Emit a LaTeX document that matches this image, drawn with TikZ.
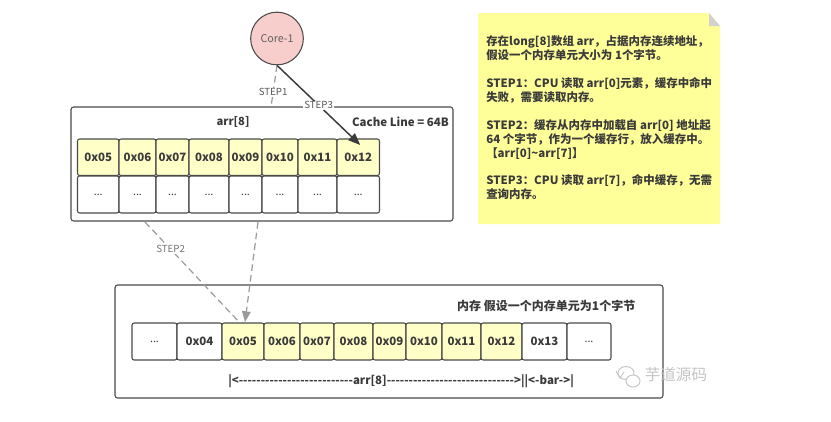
\documentclass[tikz,border=0pt]{standalone}
\usepackage{fontspec}
\setmainfont{Noto Sans CJK SC}
\usetikzlibrary{arrows.meta,calc}
\definecolor{inkdark}{HTML}{3A3A3A}
\definecolor{edgegray}{HTML}{4A4A4A}
\definecolor{dashgray}{HTML}{9A9A9A}
\definecolor{cellyellow}{HTML}{FFFFC8}
\definecolor{noteyellow}{HTML}{FFFF99}
\definecolor{corepink}{HTML}{F8CECC}
\definecolor{markgray}{HTML}{C4C4C4}
\tikzset{
  panel/.style={draw=edgegray,line width=0.8pt,rounded corners=2pt,fill=white},
  cellbase/.style={draw=edgegray,line width=0.8pt,rounded corners=1.6pt,inner sep=0pt,outer sep=0pt,
    text=inkdark,font=\fontsize{8.6}{9}\selectfont\bfseries},
  hotcell/.style={cellbase,fill=cellyellow},
  plaincell/.style={cellbase,fill=white},
  steplabel/.style={fill=white,inner sep=0.6pt,text=inkdark!85,font=\fontsize{7.3}{8}\selectfont},
  headtext/.style={text=inkdark,font=\fontsize{8.4}{9}\selectfont\bfseries},
  dashlink/.style={draw=dashgray,line width=0.9pt,dash pattern=on 5pt off 3pt},
}
% draws one cell from its left, right, top and bottom pixel edges
\newcommand{\putcell}[7]{%
  \pgfmathsetmacro{\cw}{(#3-#2)*0.75}%
  \pgfmathsetmacro{\ch}{(#5-#4)*0.75}%
  \node[#6,minimum width=\cw pt,minimum height=\ch pt] (#1) at ({(#2+#3)/2},{(#4+#5)/2}) {#7};%
}
% small elided-content marker used by the empty cells
\newcommand{\elide}{\raisebox{-0.5pt}{\fontsize{8}{8}\selectfont\mdseries ...}}
\begin{document}
\begin{tikzpicture}[x=0.75pt,y=-0.75pt]
\useasboundingbox (0,0) rectangle (831,421);

% sticky note with its folded corner
\fill[noteyellow] (478,13) -- (709,13) -- (720,26) -- (720,224) -- (478,224) -- cycle;
\fill[black!18] (709,13) -- (720,26) -- (709,26) -- cycle;
\node[anchor=north west,inner sep=0pt,align=left,text=inkdark,
      font=\fontsize{8.6}{10.45}\selectfont\bfseries] (note) at (486,35.5) {%
存在long[8]数组 arr，占据内存连续地址，\\
假设一个内存单元大小为 1个字节。\\[10.45pt]
STEP1：CPU 读取 arr[0]元素，缓存中命中\\
失败，需要读取内存。\\[10.45pt]
STEP2：缓存从内存中加载自 arr[0] 地址起\\
64 个字节，作为一个缓存行，放入缓存中。\\
【arr[0]\textasciitilde arr[7]】\\[10.45pt]
STEP3：CPU 读取 arr[7]，命中缓存，无需\\
查询内存。};

% cache panel
\node[panel,minimum width=286.5pt,minimum height=85.5pt,inner sep=0pt] (cache) at (262,164) {};
\node[headtext] (arrtitle) at (233,122) {arr[8]};
\node[headtext,font=\fontsize{8.6}{9}\selectfont\bfseries] (linesize) at (400.5,122) {Cache Line = 64B};

\putcell{c1}{77.5}{119}{139}{175.5}{hotcell}{0x05}
\putcell{c2}{119}{156}{139}{175.5}{hotcell}{0x06}
\putcell{c3}{156}{189}{139}{175.5}{hotcell}{0x07}
\putcell{c4}{189}{229}{139}{175.5}{hotcell}{0x08}
\putcell{c5}{229}{262}{139}{175.5}{hotcell}{0x09}
\putcell{c6}{262}{298}{139}{175.5}{hotcell}{0x10}
\putcell{c7}{298}{337}{139}{175.5}{hotcell}{0x11}
\putcell{c8}{337}{379.5}{139}{175.5}{hotcell}{0x12}
\putcell{d1}{77.5}{119}{176}{213}{plaincell}{\elide}
\putcell{d2}{119}{156}{176}{213}{plaincell}{\elide}
\putcell{d3}{156}{189}{176}{213}{plaincell}{\elide}
\putcell{d4}{189}{229}{176}{213}{plaincell}{\elide}
\putcell{d5}{229}{262}{176}{213}{plaincell}{\elide}
\putcell{d6}{262}{298}{176}{213}{plaincell}{\elide}
\putcell{d7}{298}{337}{176}{213}{plaincell}{\elide}
\putcell{d8}{337}{379.5}{176}{213}{plaincell}{\elide}

% memory panel
\node[panel,minimum width=411pt,minimum height=84.75pt,inner sep=0pt] (mem) at (389,341.5) {};
\node[headtext,anchor=east,font=\fontsize{9}{10}\selectfont\bfseries] (memtitle) at (640,306) {内存 假设一个内存单元为1个字节};

\putcell{m1}{132}{177}{323}{360}{plaincell}{\elide}
\putcell{m2}{177}{222}{323}{360}{plaincell}{0x04}
\putcell{m3}{222}{264}{323}{360}{hotcell}{0x05}
\putcell{m4}{264}{300}{323}{360}{hotcell}{0x06}
\putcell{m5}{300}{334}{323}{360}{hotcell}{0x07}
\putcell{m6}{334}{373}{323}{360}{hotcell}{0x08}
\putcell{m7}{373}{406}{323}{360}{hotcell}{0x09}
\putcell{m8}{406}{442}{323}{360}{hotcell}{0x10}
\putcell{m9}{442}{481}{323}{360}{hotcell}{0x11}
\putcell{m10}{481}{522}{323}{360}{hotcell}{0x12}
\putcell{m11}{522}{567}{323}{360}{plaincell}{0x13}
\putcell{m12}{567}{611}{323}{360}{plaincell}{\elide}

\node[headtext,font=\fontsize{8.6}{9}\selectfont\bfseries,anchor=west,inner sep=0pt] (span) at (228,381)
  {|<-{}-{}-{}-{}-{}-{}-{}-{}-{}-{}-{}-{}-{}-{}-{}-{}-{}-{}-{}-{}-{}-{}-{}-{}-{}-arr[8]-{}-{}-{}-{}-{}-{}-{}-{}-{}-{}-{}-{}-{}-{}-{}-{}-{}-{}-{}-{}-{}-{}-{}-{}-{}-{}-{}-{}->||<-bar->|};

% core
\node[circle,draw=edgegray,line width=0.8pt,fill=corepink,minimum size=39.5pt,inner sep=0pt,
      text=inkdark!80,font=\fontsize{8}{9}\selectfont] (core) at (277,38.5) {Core-1};

% free ends of the links on the panel edges
\coordinate (s1end) at (271,107);
\coordinate (s2start) at (145,222);
\coordinate (s4start) at (258,222);

% links between core, cache and memory
\draw[dashlink] (core.south) -- node[steplabel,pos=0.64] (s1) {STEP1} (s1end);
\draw[draw=inkdark,line width=1.1pt,-{Triangle[length=9pt,width=7pt]}]
  (core.south) -- node[steplabel,pos=0.5] (s3) {STEP3} ($(c8.north)+(2,6)$);
\draw[dashlink] (s2start) -- node[steplabel,text=inkdark!70,pos=0.27] (s2) {STEP2} ($(m3.north)+(-3,0)$);
\draw[dashlink,-{Triangle[length=8pt,width=6.5pt,fill=dashgray]}]
  (s4start) -- ($(m3.north)+(2,-1)$);

% watermark: chat bubbles and account name
\draw[markgray,line width=0.7pt] (626,373) ellipse [x radius=8,y radius=6.5];
\draw[markgray,line width=0.7pt,fill=white] (633,381) ellipse [x radius=7,y radius=6];
\draw[markgray,line width=0.7pt] (616,371) -- (620,378) -- (624,372);
\node[text=markgray,font=\fontsize{11.7}{13}\selectfont,anchor=west,inner sep=0pt] (wmark) at (644.5,375) {芋道源码};
\end{tikzpicture}
\end{document}
